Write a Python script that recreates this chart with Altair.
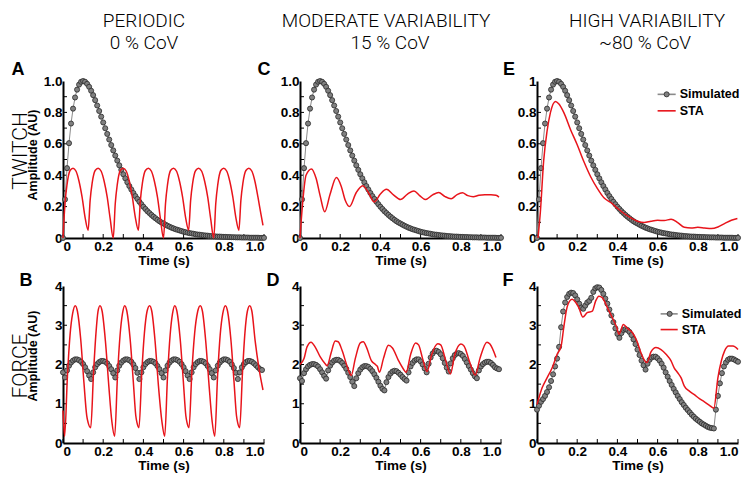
import altair as alt
import pandas as pd

# ---------------- data ----------------
# sampling instants of the simulated traces (s)
t_grid = [i / 100 for i in range(101)]

# simulated twitch (same in panels A, C, E)
twitch_sim = [0.000, 0.246, 0.445, 0.604, 0.729, 0.824, 0.895, 0.945, 0.977, 0.995,
              1.000, 0.995, 0.982, 0.963, 0.938, 0.910, 0.878, 0.844, 0.809, 0.773,
              0.736, 0.699, 0.663, 0.627, 0.592, 0.558, 0.525, 0.493, 0.463, 0.434,
              0.406, 0.380, 0.355, 0.331, 0.309, 0.287, 0.267, 0.249, 0.231, 0.215,
              0.199, 0.185, 0.171, 0.159, 0.147, 0.136, 0.126, 0.116, 0.107, 0.099,
              0.092, 0.085, 0.078, 0.072, 0.066, 0.061, 0.056, 0.052, 0.048, 0.044,
              0.040, 0.037, 0.034, 0.031, 0.029, 0.027, 0.024, 0.022, 0.021, 0.019,
              0.017, 0.016, 0.015, 0.013, 0.012, 0.011, 0.010, 0.009, 0.009, 0.008,
              0.007, 0.007, 0.006, 0.006, 0.005, 0.005, 0.004, 0.004, 0.004, 0.003,
              0.003, 0.003, 0.003, 0.002, 0.002, 0.002, 0.002, 0.002, 0.001, 0.001,
              0.001]

# simulated force, periodic (B)
force_b_sim = [1.80, 1.67, 1.85, 1.97, 2.05, 2.10, 2.13, 2.13, 2.11, 2.07,
               2.01, 1.93, 1.83, 1.72, 1.63, 1.80, 1.93, 2.01, 2.06, 2.09,
               2.09, 2.07, 2.03, 1.96, 1.88, 1.78, 1.67, 1.85, 1.97, 2.05,
               2.10, 2.13, 2.13, 2.11, 2.07, 2.00, 1.91, 1.79, 1.63, 1.80,
               1.93, 2.01, 2.06, 2.09, 2.09, 2.07, 2.03, 1.96, 1.88, 1.78,
               1.67, 1.85, 1.97, 2.05, 2.10, 2.13, 2.13, 2.11, 2.07, 2.01,
               1.93, 1.83, 1.72, 1.63, 1.80, 1.93, 2.01, 2.06, 2.09, 2.09,
               2.07, 2.03, 1.96, 1.88, 1.78, 1.67, 1.85, 1.97, 2.05, 2.10,
               2.13, 2.13, 2.11, 2.07, 2.00, 1.91, 1.79, 1.63, 1.80, 1.93,
               2.01, 2.06, 2.09, 2.09, 2.07, 2.03, 1.98, 1.93, 1.88, 1.86]

# simulated force, moderate variability (D)
force_d_sim = [1.65, 1.58, 1.78, 1.88, 1.95, 1.99, 2.01, 2.01, 1.99, 1.95,
               1.88, 1.80, 1.71, 1.64, 1.85, 1.97, 2.05, 2.10, 2.12, 2.12,
               2.09, 2.04, 1.97, 1.89, 1.79, 1.68, 1.56, 1.45, 1.65, 1.78,
               1.87, 1.93, 1.96, 1.96, 1.94, 1.89, 1.83, 1.75, 1.66, 1.56,
               1.46, 1.38, 1.34, 1.55, 1.68, 1.77, 1.82, 1.84, 1.83, 1.79,
               1.74, 1.68, 1.63, 1.59, 1.80, 1.95, 2.04, 2.10, 2.13, 2.13,
               2.08, 2.00, 1.90, 1.80, 2.02, 2.18, 2.28, 2.34, 2.35, 2.32,
               2.26, 2.16, 2.04, 1.92, 1.82, 2.03, 2.16, 2.24, 2.28, 2.29,
               2.27, 2.22, 2.14, 2.05, 1.96, 1.87, 1.78, 1.70, 1.65, 1.85,
               1.95, 2.01, 2.05, 2.07, 2.07, 2.04, 1.99, 1.93, 1.90, 1.88]

# simulated force, high variability (F)
force_f_sim = [0.85, 0.95, 1.05, 1.12, 1.20, 1.30, 1.42, 1.58, 1.75, 1.95,
               2.15, 2.45, 2.95, 3.35, 3.58, 3.72, 3.80, 3.83, 3.82, 3.76,
               3.66, 3.55, 3.45, 3.42, 3.50, 3.58, 3.62, 3.70, 3.85, 3.94,
               3.97, 3.96, 3.90, 3.80, 3.68, 3.55, 3.40, 3.25, 3.08, 2.92,
               2.78, 2.68, 2.80, 2.88, 2.90, 2.88, 2.83, 2.75, 2.64, 2.52,
               2.38, 2.24, 2.10, 1.98, 1.87, 2.02, 2.12, 2.18, 2.20, 2.20,
               2.16, 2.10, 2.02, 1.92, 1.80, 1.69, 1.58, 1.48, 1.38, 1.29,
               1.20, 1.12, 1.04, 0.97, 0.90, 0.84, 0.78, 0.72, 0.67, 0.62,
               0.58, 0.54, 0.50, 0.47, 0.44, 0.41, 0.39, 0.38, 0.37, 0.85,
               1.20, 1.52, 1.78, 1.95, 2.05, 2.12, 2.15, 2.15, 2.13, 2.10,
               2.07]

# STA traces (time, value)
a_sta_t = [0.000, 0.010, 0.020, 0.035, 0.050, 0.065, 0.080, 0.095, 0.110, 0.125,
           0.135, 0.145, 0.160, 0.175, 0.190, 0.205, 0.220, 0.235, 0.250,
           0.260, 0.270, 0.285, 0.300, 0.315, 0.330, 0.345, 0.360, 0.375,
           0.385, 0.395, 0.410, 0.425, 0.440, 0.455, 0.470, 0.485, 0.500,
           0.510, 0.520, 0.535, 0.550, 0.565, 0.580, 0.595, 0.610, 0.625,
           0.635, 0.645, 0.660, 0.675, 0.690, 0.705, 0.720, 0.735, 0.750,
           0.760, 0.770, 0.785, 0.800, 0.815, 0.830, 0.845, 0.860, 0.875,
           0.885, 0.895, 0.910, 0.925, 0.940, 0.955, 0.970, 0.985, 0.995]
a_sta_v = [0.00, 0.22, 0.34, 0.43, 0.445, 0.425, 0.36, 0.26, 0.13, 0.05,
           0.24, 0.35, 0.43, 0.445, 0.425, 0.36, 0.26, 0.12, 0.00,
           0.22, 0.34, 0.43, 0.445, 0.425, 0.36, 0.26, 0.13, 0.05,
           0.24, 0.35, 0.43, 0.445, 0.425, 0.36, 0.26, 0.12, 0.00,
           0.22, 0.34, 0.43, 0.445, 0.425, 0.36, 0.26, 0.13, 0.05,
           0.24, 0.35, 0.43, 0.445, 0.425, 0.36, 0.26, 0.12, 0.00,
           0.22, 0.34, 0.43, 0.445, 0.425, 0.36, 0.26, 0.13, 0.05,
           0.24, 0.35, 0.43, 0.445, 0.425, 0.36, 0.26, 0.15, 0.08]

c_sta_t = [0.000, 0.015, 0.030, 0.057, 0.080, 0.100, 0.123, 0.150, 0.181, 0.205,
           0.225, 0.246, 0.280, 0.312, 0.340, 0.369, 0.400, 0.430, 0.465, 0.500,
           0.535, 0.567, 0.595, 0.624, 0.660, 0.690, 0.720, 0.752, 0.780, 0.808,
           0.835, 0.862, 0.890, 0.920, 0.950, 0.975, 0.990]
c_sta_v = [0.00, 0.25, 0.40, 0.44, 0.38, 0.27, 0.167, 0.28, 0.385, 0.33,
           0.24, 0.20, 0.29, 0.333, 0.29, 0.23, 0.28, 0.31, 0.275, 0.245,
           0.28, 0.30, 0.27, 0.245, 0.275, 0.29, 0.265, 0.25, 0.275, 0.288,
           0.27, 0.263, 0.272, 0.275, 0.275, 0.272, 0.26]

e_sta_t = [0.005, 0.017, 0.033, 0.050, 0.067, 0.092, 0.108, 0.133, 0.167, 0.200,
           0.233, 0.267, 0.300, 0.333, 0.367, 0.400, 0.433, 0.467, 0.500, 0.533,
           0.567, 0.600, 0.633, 0.667, 0.700, 0.733, 0.767, 0.800, 0.833, 0.867,
           0.900, 0.933, 0.967, 0.997]
e_sta_v = [0.00, 0.17, 0.49, 0.68, 0.80, 0.87, 0.855, 0.80, 0.69, 0.594,
           0.487, 0.39, 0.316, 0.256, 0.226, 0.19, 0.156, 0.128, 0.107, 0.098,
           0.107, 0.113, 0.111, 0.12, 0.098, 0.068, 0.064, 0.068, 0.064, 0.06,
           0.07, 0.092, 0.113, 0.124]

b_sta_t = [0.000, 0.008, 0.022, 0.035, 0.048, 0.061, 0.072, 0.088, 0.104, 0.118, 0.125, 0.138,
           0.152, 0.164, 0.174, 0.184, 0.195, 0.211, 0.228, 0.243, 0.257,
           0.271, 0.284, 0.296, 0.307, 0.318, 0.334, 0.350, 0.362, 0.368, 0.378,
           0.392, 0.405, 0.418, 0.431, 0.442, 0.458, 0.475, 0.492, 0.506,
           0.520, 0.533, 0.545, 0.556, 0.567, 0.583, 0.599, 0.611, 0.617, 0.627,
           0.641, 0.655, 0.670, 0.683, 0.694, 0.710, 0.727, 0.742, 0.755,
           0.769, 0.782, 0.795, 0.808, 0.819, 0.835, 0.851, 0.863, 0.869, 0.879,
           0.893, 0.905, 0.917, 0.929, 0.940, 0.956, 0.975, 0.995]
b_sta_v = [0.83, 0.17, 1.70, 2.75, 3.30, 3.50, 3.35, 2.65, 1.55, 0.70, 0.52, 0.39,
           1.80, 2.80, 3.35, 3.50, 3.35, 2.60, 1.45, 0.55, 0.17,
           1.70, 2.75, 3.30, 3.50, 3.35, 2.65, 1.55, 0.70, 0.52, 0.39,
           1.80, 2.80, 3.35, 3.50, 3.35, 2.60, 1.45, 0.55, 0.17,
           1.70, 2.75, 3.30, 3.50, 3.35, 2.65, 1.55, 0.70, 0.52, 0.39,
           1.80, 2.80, 3.35, 3.50, 3.35, 2.60, 1.45, 0.55, 0.17,
           1.70, 2.75, 3.30, 3.50, 3.35, 2.65, 1.55, 0.70, 0.52, 0.39,
           1.80, 2.80, 3.35, 3.50, 3.35, 2.60, 1.90, 1.35]

d_sta_t = [0.000, 0.020, 0.035, 0.055, 0.075, 0.100, 0.125, 0.135, 0.155, 0.175,
           0.190, 0.210, 0.235, 0.255, 0.275, 0.300, 0.315, 0.330, 0.355, 0.375,
           0.385, 0.395, 0.415, 0.440, 0.460, 0.490, 0.515, 0.528, 0.550, 0.575,
           0.590, 0.610, 0.632, 0.655, 0.685, 0.700, 0.725, 0.748, 0.770, 0.800,
           0.815, 0.845, 0.872, 0.895, 0.930, 0.945, 0.975]
d_sta_v = [2.00, 2.15, 2.45, 2.57, 2.45, 2.20, 2.02, 1.97, 2.30, 2.60,
           2.58, 2.35, 1.95, 1.72, 2.15, 2.55, 2.58, 2.45, 2.10, 2.00,
           1.95, 1.80, 2.15, 2.49, 2.42, 2.10, 1.88, 1.80, 2.25, 2.55,
           2.50, 2.15, 1.82, 2.25, 2.53, 2.50, 2.10, 1.76, 2.25, 2.52,
           2.48, 2.05, 1.73, 2.15, 2.57, 2.52, 2.18]

f_sta_t = [0.000, 0.025, 0.050, 0.075, 0.100, 0.120, 0.133, 0.147, 0.163, 0.175,
           0.190, 0.208, 0.228, 0.250, 0.275, 0.292, 0.308, 0.325, 0.350, 0.375,
           0.397, 0.408, 0.430, 0.450, 0.475, 0.497, 0.517, 0.537, 0.547, 0.567,
           0.592, 0.617, 0.642, 0.667, 0.683, 0.700, 0.717, 0.733, 0.758, 0.783,
           0.808, 0.833, 0.858, 0.880, 0.900, 0.917, 0.933, 0.953, 0.975, 1.000]
f_sta_v = [0.98, 1.40, 1.66, 1.91, 2.26, 2.47, 2.94, 3.40, 3.62, 3.66,
           3.60, 3.45, 3.21, 3.32, 3.36, 3.62, 3.74, 3.70, 3.45, 3.19,
           2.94, 2.77, 3.02, 2.92, 2.81, 2.60, 2.30, 2.09, 2.05, 2.32,
           2.43, 2.38, 2.26, 2.09, 1.91, 1.79, 1.66, 1.45, 1.32, 1.23,
           1.13, 1.05, 0.96, 0.89, 1.66, 2.09, 2.34, 2.47, 2.47, 2.38]

# axes
x_ticks = [0, 0.2, 0.4, 0.6, 0.8, 1.0]
x_minor = [0, 0.1, 0.2, 0.3, 0.4, 0.5, 0.6, 0.7, 0.8, 0.9, 1.0]
y_twitch_ticks = [0, 0.2, 0.4, 0.6, 0.8, 1.0]
y_twitch_minor = [0.1, 0.2, 0.3, 0.4, 0.5, 0.6, 0.7, 0.8, 0.9]
y_force_ticks = [0, 1, 2, 3, 4]
y_force_minor = [0.5, 1, 1.5, 2, 2.5, 3, 3.5]

legend_labels = ["Simulated", "STA"]

# ---------------- styling ----------------
W, H = 201, 157
RED = "#e8141b"
GREY_LINE = "#8a8a8a"
DOT_FILL = "#808080"
DOT_EDGE = "#2a2a2a"
TITLE_FONT = "Roboto"
BOLD_FONT = "Liberation Sans"

X_LABELS = "datum.value == 0 ? '0' : format(datum.value, '.1f')"


def text_layer(s, px, py, size, weight="bold", font=BOLD_FONT, angle=0):
    return alt.Chart(pd.DataFrame({"s": [s]})).mark_text(
        font=font, fontSize=size, fontWeight=weight, color="black",
        align="center", baseline="middle", angle=angle
    ).encode(text="s:N", x=alt.value(px), y=alt.value(py))


def panel(sim_v, sta_t, sta_v, ymax, y_ticks, y_minor, y_labels, texts, legend=None):
    sim = pd.DataFrame({"t": t_grid[:len(sim_v)], "v": sim_v})
    sta = pd.DataFrame({"t": sta_t, "v": sta_v})
    xs = alt.Scale(domain=[0, 1], nice=False, zero=False)
    ys = alt.Scale(domain=[0, ymax], nice=False, zero=False)
    xax = alt.Axis(values=x_ticks, labelExpr=X_LABELS, title="Time (s)")
    yax = alt.Axis(values=y_ticks, labelExpr=y_labels, title=None)

    def X(f):
        return alt.X(f, type="quantitative", scale=xs, axis=xax)

    def Y(f):
        return alt.Y(f, type="quantitative", scale=ys, axis=yax)

    layers = []
    # inward minor ticks
    layers.append(alt.Chart(pd.DataFrame({"t": x_minor})).mark_rule(
        color="black", strokeWidth=1).encode(x=X("t"), y=alt.value(H), y2=alt.value(H - 4)))
    layers.append(alt.Chart(pd.DataFrame({"v": y_minor})).mark_rule(
        color="black", strokeWidth=1).encode(y=Y("v"), x=alt.value(0), x2=alt.value(4)))
    # simulated trace: thin line + dots
    layers.append(alt.Chart(sim).mark_line(color=GREY_LINE, strokeWidth=1).encode(x=X("t"), y=Y("v")))
    layers.append(alt.Chart(sim).mark_circle(
        color=DOT_FILL, stroke=DOT_EDGE, strokeWidth=0.8, size=26, opacity=1
    ).encode(x=X("t"), y=Y("v")))
    # STA
    layers.append(alt.Chart(sta).mark_line(
        color=RED, strokeWidth=1.5, interpolate="monotone").encode(x=X("t"), y=Y("v")))

    if legend is not None:
        lt1, lt2, lc, ltx, ly1, ly2 = legend
        leg = pd.DataFrame({"lab": legend_labels, "t1": [lt1, lt1], "t2": [lt2, lt2],
                            "tx": [ltx, ltx], "v": [ly1, ly2],
                            "c": [GREY_LINE, RED]})
        layers.append(alt.Chart(leg).mark_rule(strokeWidth=1.6).encode(
            x=X("t1"), x2="t2", y=Y("v"), color=alt.Color("c:N", scale=None)))
        layers.append(alt.Chart(leg.iloc[:1].assign(tc=lc)).mark_circle(
            color=DOT_FILL, stroke=DOT_EDGE, strokeWidth=0.8, size=26, opacity=1
        ).encode(x=X("tc"), y=Y("v")))
        layers.append(alt.Chart(leg).mark_text(
            font=BOLD_FONT, fontSize=12.5, fontWeight="bold", align="left",
            baseline="middle", color="black", dx=2
        ).encode(x=X("tx"), y=Y("v"), text="lab:N"))

    for tx in texts:
        layers.append(text_layer(*tx))

    return alt.layer(*layers).properties(width=W, height=H)


TW_LABELS_10 = "datum.value == 0 ? '0' : format(datum.value, '.1f')"
TW_LABELS_1 = "datum.value == 0 ? '0' : datum.value == 1 ? '1' : format(datum.value, '.1f')"
F_LABELS = "format(datum.value, '.0f')"

TS = 19  # column title size

pA = panel(twitch_sim, a_sta_t, a_sta_v, 1.0, y_twitch_ticks, y_twitch_minor, TW_LABELS_10, [
    ("PERIODIC", 81, -60, TS, 300, TITLE_FONT),
    ("0 % CoV", 81, -38, TS, 300, TITLE_FONT),
    ("A", -45, -11, 18),
    ("TWITCH", -42, 70, 21, 300, TITLE_FONT, 270),
    ("Amplitude (AU)", -30, 74, 12.5, "bold", BOLD_FONT, 270),
])
pC = panel(twitch_sim, c_sta_t, c_sta_v, 1.0, y_twitch_ticks, y_twitch_minor, TW_LABELS_10, [
    ("MODERATE VARIABILITY", 86, -60, TS, 300, TITLE_FONT),
    ("15 % CoV", 90, -38, TS, 300, TITLE_FONT),
    ("C", -36, -11, 18),
])
pE = panel(twitch_sim, e_sta_t, e_sta_v, 1.0, y_twitch_ticks, y_twitch_minor, TW_LABELS_1, [
    ("HIGH VARIABILITY", 110, -60, TS, 300, TITLE_FONT),
    ("~80 % CoV", 108, -38, TS, 300, TITLE_FONT),
    ("E", -28, -11, 18),
], legend=(0.60, 0.69, 0.645, 0.70, 0.915, 0.81))
pB = panel(force_b_sim, b_sta_t, b_sta_v, 4.0, y_force_ticks, y_force_minor, F_LABELS, [
    ("B", -37, -5, 18),
    ("FORCE", -42, 80, 21, 300, TITLE_FONT, 270),
    ("Amplitude (AU)", -30, 70, 12.5, "bold", BOLD_FONT, 270),
])
pD = panel(force_d_sim, d_sta_t, d_sta_v, 4.0, y_force_ticks, y_force_minor, F_LABELS, [
    ("D", -27, -5, 18),
])
pF = panel(force_f_sim, f_sta_t, f_sta_v, 4.0, y_force_ticks, y_force_minor, F_LABELS, [
    ("F", -29, -5, 18),
], legend=(0.615, 0.70, 0.66, 0.71, 3.29, 2.89))

chart = alt.concat(pA, pC, pE, pB, pD, pF, columns=3,
                   spacing={"row": 48, "column": 36}, bounds="flush").properties(
    autosize=alt.AutoSizeParams(type="none"),
    padding={"left": 55, "top": 73, "right": 679, "bottom": 394}
).configure_view(stroke=None).configure_axis(
    domainColor="black", domainWidth=2, ticks=False, grid=False,
    labelFont=BOLD_FONT, labelFontWeight="bold", labelFontSize=13.5, labelColor="black",
    labelPadding=1, labelOverlap=False,
    titleFont=BOLD_FONT, titleFontWeight="bold", titleFontSize=13.5, titleColor="black",
    titlePadding=1,
)

chart.save("out.html", embed_options={"renderer": "svg", "actions": False})
